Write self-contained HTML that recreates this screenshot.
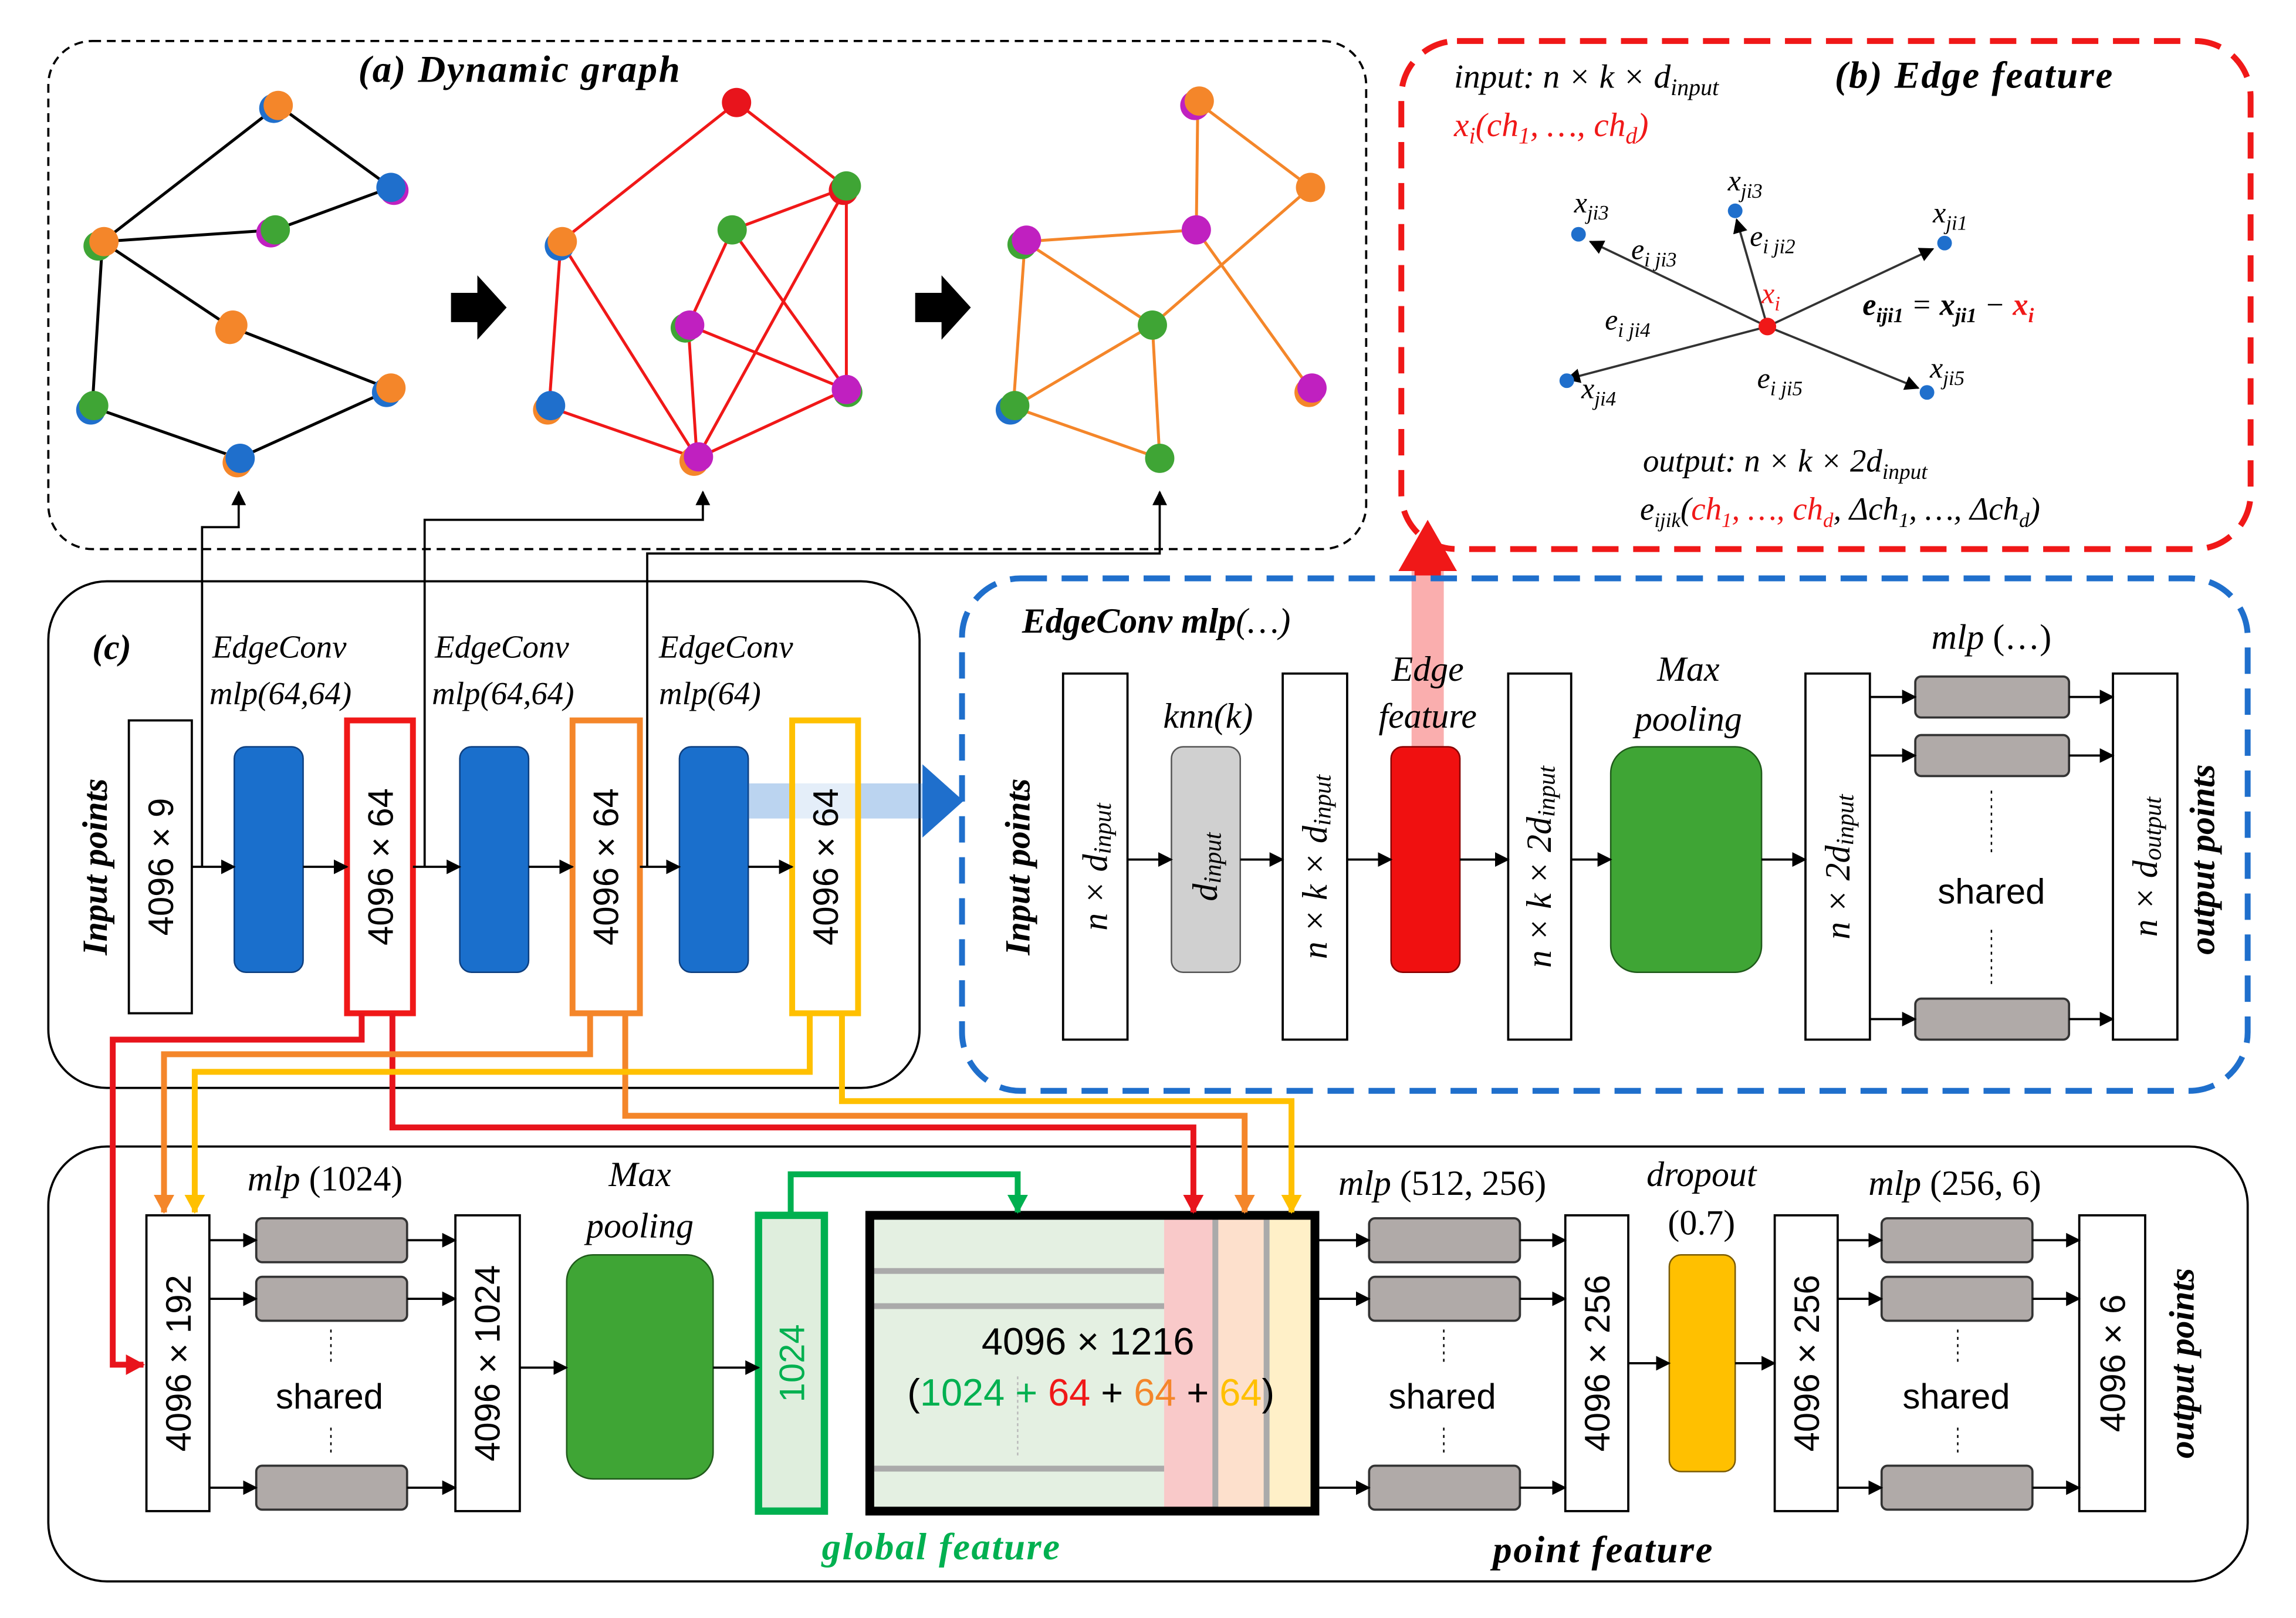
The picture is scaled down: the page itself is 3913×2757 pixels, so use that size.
<!DOCTYPE html>
<html><head><meta charset="utf-8"><style>
html,body{margin:0;padding:0;background:#fff;}
svg{display:block;}
.s{font-family:"Liberation Sans",sans-serif;}
.m{font-family:"Liberation Serif",serif;font-style:italic;}
.b{font-family:"Liberation Serif",serif;font-style:italic;font-weight:bold;}
</style></head><body>
<svg width="3913" height="2757" viewBox="0 0 1568 1105" preserveAspectRatio="none" xmlns="http://www.w3.org/2000/svg">
<defs>
<marker id="ak" markerWidth="10" markerHeight="10" refX="9" refY="5" orient="auto" markerUnits="userSpaceOnUse"><path d="M0,0 L10,5 L0,10z" fill="#000"/></marker>
<marker id="ar" markerWidth="14" markerHeight="14" refX="12" refY="7" orient="auto" markerUnits="userSpaceOnUse"><path d="M0,0 L13,7 L0,14z" fill="#e8141c"/></marker>
<marker id="ao" markerWidth="14" markerHeight="14" refX="12" refY="7" orient="auto" markerUnits="userSpaceOnUse"><path d="M0,0 L13,7 L0,14z" fill="#f4862a"/></marker>
<marker id="ay" markerWidth="14" markerHeight="14" refX="12" refY="7" orient="auto" markerUnits="userSpaceOnUse"><path d="M0,0 L13,7 L0,14z" fill="#ffc000"/></marker>
<marker id="ag" markerWidth="14" markerHeight="14" refX="12" refY="7" orient="auto" markerUnits="userSpaceOnUse"><path d="M0,0 L13,7 L0,14z" fill="#00b050"/></marker>
</defs>

<!-- (a) -->
<rect x="33" y="28" width="900" height="347" rx="30" fill="none" stroke="#000" stroke-width="1.5" stroke-dasharray="6,4"/>
<text x="355" y="56" text-anchor="middle" class="b" font-size="26" letter-spacing="1">(a) Dynamic graph</text>
<g stroke="#000" stroke-width="2">
<line x1="70" y1="165" x2="190" y2="72"/><line x1="190" y1="72" x2="267" y2="128"/><line x1="267" y1="128" x2="188" y2="157"/>
<line x1="70" y1="165" x2="188" y2="157"/><line x1="70" y1="165" x2="63" y2="278"/><line x1="70" y1="165" x2="157" y2="223"/>
<line x1="157" y1="223" x2="267" y2="266"/><line x1="63" y1="278" x2="163" y2="313"/><line x1="163" y1="313" x2="267" y2="266"/>
</g>
<g stroke="#f01818" stroke-width="2">
<line x1="383" y1="165" x2="503" y2="70"/><line x1="503" y1="70" x2="578" y2="128"/><line x1="578" y1="128" x2="578" y2="266"/>
<line x1="383" y1="165" x2="476" y2="313"/><line x1="383" y1="165" x2="375" y2="278"/><line x1="500" y1="157" x2="578" y2="128"/>
<line x1="500" y1="157" x2="470" y2="222"/><line x1="500" y1="157" x2="578" y2="266"/><line x1="470" y1="222" x2="578" y2="266"/>
<line x1="470" y1="222" x2="476" y2="313"/><line x1="375" y1="278" x2="476" y2="313"/><line x1="476" y1="313" x2="578" y2="266"/><line x1="578" y1="128" x2="476" y2="313"/>
</g>
<g stroke="#f4862a" stroke-width="2">
<line x1="818" y1="70" x2="817" y2="157"/><line x1="818" y1="70" x2="895" y2="128"/><line x1="700" y1="165" x2="817" y2="157"/>
<line x1="700" y1="165" x2="692" y2="278"/><line x1="700" y1="165" x2="787" y2="222"/><line x1="817" y1="157" x2="895" y2="266"/>
<line x1="895" y1="128" x2="787" y2="222"/><line x1="787" y1="222" x2="692" y2="278"/><line x1="787" y1="222" x2="792" y2="313"/><line x1="692" y1="278" x2="792" y2="313"/>
</g>
<g>
<circle cx="187" cy="74" r="10" fill="#1f6fcc"/><circle cx="190" cy="72" r="10" fill="#f4862a"/>
<circle cx="269" cy="130" r="10" fill="#c020c0"/><circle cx="267" cy="128" r="10" fill="#1f6fcc"/>
<circle cx="185" cy="159" r="10" fill="#c020c0"/><circle cx="188" cy="157" r="10" fill="#3fa535"/>
<circle cx="67" cy="168" r="10" fill="#3fa535"/><circle cx="71" cy="165" r="10" fill="#f4862a"/>
<circle cx="157" cy="225" r="10" fill="#f4862a"/><circle cx="159" cy="222" r="10" fill="#f4862a"/>
<circle cx="264" cy="268" r="10" fill="#1f6fcc"/><circle cx="267" cy="265" r="10" fill="#f4862a"/>
<circle cx="62" cy="280" r="10" fill="#1f6fcc"/><circle cx="64" cy="277" r="10" fill="#3fa535"/>
<circle cx="162" cy="316" r="10" fill="#f4862a"/><circle cx="164" cy="313" r="10" fill="#1f6fcc"/>

<circle cx="503" cy="70" r="10" fill="#e8141c"/>
<circle cx="576" cy="130" r="10" fill="#e8141c"/><circle cx="578" cy="127" r="10" fill="#3fa535"/>
<circle cx="500" cy="157" r="10" fill="#3fa535"/>
<circle cx="382" cy="168" r="10" fill="#1f6fcc"/><circle cx="384" cy="165" r="10" fill="#f4862a"/>
<circle cx="468" cy="224" r="10" fill="#3fa535"/><circle cx="471" cy="222" r="10" fill="#c020c0"/>
<circle cx="579" cy="268" r="10" fill="#3fa535"/><circle cx="578" cy="266" r="10" fill="#c020c0"/>
<circle cx="374" cy="280" r="10" fill="#f4862a"/><circle cx="376" cy="277" r="10" fill="#1f6fcc"/>
<circle cx="474" cy="315" r="10" fill="#f4862a"/><circle cx="477" cy="312" r="10" fill="#c020c0"/>

<circle cx="816" cy="72" r="10" fill="#c020c0"/><circle cx="819" cy="69" r="10" fill="#f4862a"/>
<circle cx="895" cy="128" r="10" fill="#f4862a"/>
<circle cx="817" cy="157" r="10" fill="#c020c0"/>
<circle cx="698" cy="167" r="10" fill="#3fa535"/><circle cx="701" cy="164" r="10" fill="#c020c0"/>
<circle cx="787" cy="222" r="10" fill="#3fa535"/>
<circle cx="894" cy="268" r="10" fill="#f4862a"/><circle cx="896" cy="265" r="10" fill="#c020c0"/>
<circle cx="690" cy="280" r="10" fill="#1f6fcc"/><circle cx="693" cy="277" r="10" fill="#3fa535"/>
<circle cx="792" cy="313" r="10" fill="#3fa535"/>
</g>
<path d="M308,200 h18 v-12 l20,22 l-20,22 v-12 h-18z" fill="#000"/>
<path d="M625,200 h18 v-12 l20,22 l-20,22 v-12 h-18z" fill="#000"/>

<!-- (b) -->
<rect x="957" y="28" width="580" height="347" rx="38" fill="none" stroke="#f01818" stroke-width="4" stroke-dasharray="18,10"/>
<text x="993" y="60" class="m" font-size="23">input: n × k × d<tspan font-size="16" dy="5">input</tspan></text>
<text x="1253" y="60" class="b" font-size="26" letter-spacing="1">(b) Edge feature</text>
<text x="993" y="93" class="m" font-size="23" fill="#f01818">x<tspan font-size="16" dy="5">i</tspan><tspan dy="-5">(ch</tspan><tspan font-size="16" dy="5">1</tspan><tspan dy="-5">, …, ch</tspan><tspan font-size="16" dy="5">d</tspan><tspan dy="-5">)</tspan></text>
<g stroke="#333" stroke-width="1.5" marker-end="url(#ak)">
<line x1="1207" y1="223" x2="1086" y2="165"/><line x1="1207" y1="223" x2="1186" y2="150"/>
<line x1="1207" y1="223" x2="1320" y2="170"/><line x1="1207" y1="223" x2="1070" y2="259"/><line x1="1207" y1="223" x2="1310" y2="265"/>
</g>
<g fill="#1f6fcc"><circle cx="1078" cy="160" r="5"/><circle cx="1185" cy="144" r="5"/><circle cx="1328" cy="166" r="5"/><circle cx="1070" cy="260" r="5"/><circle cx="1316" cy="268" r="5"/></g>
<circle cx="1207" cy="223" r="6" fill="#f01818"/>
<g class="m" font-size="20">
<text x="1075" y="145">x<tspan font-size="14" dy="5">ji3</tspan></text>
<text x="1180" y="130">x<tspan font-size="14" dy="5">ji3</tspan></text>
<text x="1320" y="152">x<tspan font-size="14" dy="5">ji1</tspan></text>
<text x="1080" y="272">x<tspan font-size="14" dy="5">ji4</tspan></text>
<text x="1318" y="258">x<tspan font-size="14" dy="5">ji5</tspan></text>
<text x="1114" y="177">e<tspan font-size="14" dy="5">i ji3</tspan></text>
<text x="1195" y="168">e<tspan font-size="14" dy="5">i ji2</tspan></text>
<text x="1096" y="225">e<tspan font-size="14" dy="5">i ji4</tspan></text>
<text x="1200" y="265">e<tspan font-size="14" dy="5">i ji5</tspan></text>
<text x="1203" y="207" fill="#f01818">x<tspan font-size="14" dy="5">i</tspan></text>
</g>
<text x="1272" y="215" class="b" font-size="21">e<tspan font-size="14" dy="5">iji1</tspan><tspan dy="-5" font-weight="normal"> = </tspan>x<tspan font-size="14" dy="5">ji1</tspan><tspan dy="-5" font-weight="normal"> − </tspan><tspan fill="#f01818">x<tspan font-size="14" dy="5">i</tspan></tspan></text>
<text x="1122" y="322" class="m" font-size="22">output: n × k × 2d<tspan font-size="15" dy="5">input</tspan></text>
<text x="1120" y="355" class="m" font-size="22">e<tspan font-size="14" dy="5">ijik</tspan><tspan dy="-5">(</tspan><tspan fill="#f01818">ch<tspan font-size="14" dy="5">1</tspan><tspan dy="-5">, …, ch</tspan><tspan font-size="14" dy="5">d</tspan></tspan><tspan dy="-5">, Δch</tspan><tspan font-size="14" dy="5">1</tspan><tspan dy="-5">, …, Δch</tspan><tspan font-size="14" dy="5">d</tspan><tspan dy="-5">)</tspan></text>

<!-- red up arrow -->
<rect x="964" y="390" width="22" height="120" fill="#f01818" opacity="0.35"/>
<path d="M955,390 L975,355 L995,390z" fill="#f01818"/>
<rect x="966" y="375" width="18" height="18" fill="#f01818"/>

<!-- (c) top -->
<rect x="33" y="397" width="595" height="346" rx="40" fill="none" stroke="#000" stroke-width="1.5"/>
<text x="63" y="450" class="b" font-size="24">(c)</text>
<text transform="translate(73,592) rotate(-90)" text-anchor="middle" class="b" font-size="24">Input points</text>
<g class="m" font-size="22">
<text x="145" y="449">EdgeConv</text><text x="143" y="481">mlp(64,64)</text>
<text x="297" y="449">EdgeConv</text><text x="295" y="481">mlp(64,64)</text>
<text x="450" y="449">EdgeConv</text><text x="450" y="481">mlp(64)</text>
</g>
<rect x="88" y="492" width="43" height="200" fill="#fff" stroke="#000" stroke-width="1.5"/>
<text transform="translate(110,592) rotate(-90)" text-anchor="middle" dominant-baseline="central" class="s" font-size="24">4096 × 9</text>
<g fill="#1a6fcc" stroke="#0d3f80" stroke-width="1">
<rect x="160" y="510" width="47" height="154" rx="8"/><rect x="314" y="510" width="47" height="154" rx="8"/><rect x="464" y="510" width="47" height="154" rx="8"/>
</g>
<rect x="511" y="535" width="122" height="24" fill="#1f6fcc" opacity="0.3"/>
<path d="M630,522 L658,547 L630,572z" fill="#1f6fcc"/>
<rect x="237" y="492" width="45" height="200" fill="#fff" stroke="#f01818" stroke-width="4"/>
<rect x="391" y="492" width="46" height="200" fill="#fff" stroke="#f4862a" stroke-width="4"/>
<rect x="541" y="492" width="45" height="200" fill="#fff" fill-opacity="0.6" stroke="#ffc000" stroke-width="4"/>
<g class="s" font-size="24" text-anchor="middle" dominant-baseline="central">
<text transform="translate(260,592) rotate(-90)">4096 × 64</text>
<text transform="translate(414,592) rotate(-90)">4096 × 64</text>
<text transform="translate(564,592) rotate(-90)">4096 × 64</text>
</g>
<g stroke="#000" stroke-width="1.5" marker-end="url(#ak)">
<line x1="131" y1="592" x2="160" y2="592"/><line x1="207" y1="592" x2="237" y2="592"/><line x1="282" y1="592" x2="314" y2="592"/>
<line x1="361" y1="592" x2="391" y2="592"/><line x1="437" y1="592" x2="464" y2="592"/><line x1="511" y1="592" x2="541" y2="592"/>
</g>
<g fill="none" stroke="#000" stroke-width="1.5" marker-end="url(#ak)">
<polyline points="138,592 138,360 163,360 163,336"/>
<polyline points="290,592 290,355 480,355 480,336"/>
<polyline points="442,592 442,378 792,378 792,336"/>
</g>

<!-- EdgeConv detail -->
<rect x="657" y="395" width="878" height="350" rx="40" fill="none" stroke="#1f6fcc" stroke-width="4" stroke-dasharray="18,10"/>
<text x="698" y="432" class="b" font-size="24">EdgeConv mlp<tspan font-weight="normal">(…)</tspan></text>
<text transform="translate(703,592) rotate(-90)" text-anchor="middle" class="b" font-size="24">Input points</text>
<g fill="#fff" stroke="#000" stroke-width="1.5">
<rect x="726" y="460" width="44" height="250"/><rect x="876" y="460" width="44" height="250"/><rect x="1030" y="460" width="43" height="250"/>
<rect x="1233" y="460" width="44" height="250"/><rect x="1443" y="460" width="44" height="250"/>
</g>
<rect x="800" y="510" width="47" height="154" rx="8" fill="#d0d0d0" stroke="#555" stroke-width="1"/>
<rect x="950" y="510" width="47" height="154" rx="8" fill="#f01010" stroke="#800" stroke-width="1"/>
<rect x="1100" y="510" width="103" height="154" rx="18" fill="#3fa535" stroke="#1f5a1a" stroke-width="1"/>
<g class="m" font-size="24" text-anchor="middle" dominant-baseline="central">
<text transform="translate(748,592) rotate(-90)">n × d<tspan font-size="17" dy="5">input</tspan></text>
<text transform="translate(823,592) rotate(-90)">d<tspan font-size="17" dy="5">input</tspan></text>
<text transform="translate(898,592) rotate(-90)">n × k × d<tspan font-size="17" dy="5">input</tspan></text>
<text transform="translate(1051,592) rotate(-90)">n × k × 2d<tspan font-size="17" dy="5">input</tspan></text>
<text transform="translate(1255,592) rotate(-90)">n × 2d<tspan font-size="17" dy="5">input</tspan></text>
<text transform="translate(1465,592) rotate(-90)">n × d<tspan font-size="17" dy="5">output</tspan></text>
</g>
<g class="m" font-size="24" text-anchor="middle">
<text x="825" y="497">knn(k)</text>
<text x="975" y="465">Edge</text><text x="975" y="497">feature</text>
<text x="1153" y="465">Max</text><text x="1153" y="499">pooling</text>
<text x="1360" y="443">mlp <tspan font-style="normal">(…)</tspan></text>
</g>
<text transform="translate(1512,587) rotate(-90)" text-anchor="middle" class="b" font-size="24">output points</text>
<g fill="#b0aaa8" stroke="#333" stroke-width="1.5">
<rect x="1308" y="462" width="105" height="28" rx="4"/><rect x="1308" y="502" width="105" height="28" rx="4"/><rect x="1308" y="682" width="105" height="28" rx="4"/>
</g>
<text x="1360" y="617" text-anchor="middle" class="s" font-size="24">shared</text>
<g stroke="#000" stroke-width="1" stroke-dasharray="2,3"><line x1="1360" y1="540" x2="1360" y2="585"/><line x1="1360" y1="635" x2="1360" y2="675"/></g>
<g stroke="#000" stroke-width="1.5" marker-end="url(#ak)">
<line x1="770" y1="587" x2="800" y2="587"/><line x1="847" y1="587" x2="876" y2="587"/><line x1="920" y1="587" x2="950" y2="587"/>
<line x1="997" y1="587" x2="1030" y2="587"/><line x1="1073" y1="587" x2="1100" y2="587"/><line x1="1203" y1="587" x2="1233" y2="587"/>
<line x1="1277" y1="476" x2="1308" y2="476"/><line x1="1277" y1="516" x2="1308" y2="516"/><line x1="1277" y1="696" x2="1308" y2="696"/>
<line x1="1413" y1="476" x2="1443" y2="476"/><line x1="1413" y1="516" x2="1443" y2="516"/><line x1="1413" y1="696" x2="1443" y2="696"/>
</g>

<!-- bottom panel -->
<rect x="33" y="783" width="1502" height="297" rx="40" fill="none" stroke="#000" stroke-width="1.5"/>
<g fill="#fff" stroke="#000" stroke-width="1.5">
<rect x="100" y="830" width="43" height="202"/><rect x="311" y="830" width="44" height="202"/>
<rect x="1069" y="830" width="43" height="202"/><rect x="1212" y="830" width="43" height="202"/><rect x="1420" y="830" width="45" height="202"/>
</g>
<g class="s" font-size="24" text-anchor="middle" dominant-baseline="central">
<text transform="translate(122,931) rotate(-90)">4096 × 192</text>
<text transform="translate(333,931) rotate(-90)">4096 × 1024</text>
<text transform="translate(1091,931) rotate(-90)">4096 × 256</text>
<text transform="translate(1234,931) rotate(-90)">4096 × 256</text>
<text transform="translate(1443,931) rotate(-90)">4096 × 6</text>
</g>
<g fill="#b0aaa8" stroke="#333" stroke-width="1.5">
<rect x="175" y="832" width="103" height="30" rx="4"/><rect x="175" y="872" width="103" height="30" rx="4"/><rect x="175" y="1001" width="103" height="30" rx="4"/>
<rect x="935" y="832" width="103" height="30" rx="4"/><rect x="935" y="872" width="103" height="30" rx="4"/><rect x="935" y="1001" width="103" height="30" rx="4"/>
<rect x="1285" y="832" width="103" height="30" rx="4"/><rect x="1285" y="872" width="103" height="30" rx="4"/><rect x="1285" y="1001" width="103" height="30" rx="4"/>
</g>
<g class="s" font-size="24" text-anchor="middle">
<text x="225" y="962">shared</text><text x="985" y="962">shared</text><text x="1336" y="962">shared</text>
</g>
<g stroke="#000" stroke-width="1" stroke-dasharray="2,3">
<line x1="226" y1="908" x2="226" y2="930"/><line x1="226" y1="975" x2="226" y2="995"/>
<line x1="986" y1="908" x2="986" y2="930"/><line x1="986" y1="975" x2="986" y2="995"/>
<line x1="1337" y1="908" x2="1337" y2="930"/><line x1="1337" y1="975" x2="1337" y2="995"/>
</g>
<g class="m" font-size="24" text-anchor="middle">
<text x="222" y="813">mlp <tspan font-style="normal">(1024)</tspan></text>
<text x="437" y="810">Max</text><text x="437" y="845">pooling</text>
<text x="985" y="816">mlp <tspan font-style="normal">(512, 256)</tspan></text>
<text x="1162" y="810">dropout</text><text x="1162" y="843" font-style="normal">(0.7)</text>
<text x="1335" y="816">mlp <tspan font-style="normal">(256, 6)</tspan></text>
</g>
<rect x="387" y="857" width="100" height="153" rx="18" fill="#3fa535" stroke="#1f5a1a" stroke-width="1"/>
<rect x="1140" y="857" width="45" height="148" rx="8" fill="#ffc000" stroke="#7a5a00" stroke-width="1"/>
<rect x="518" y="830" width="45" height="202" fill="#dfeedd" stroke="#00b050" stroke-width="5"/>
<text transform="translate(541,931) rotate(-90)" text-anchor="middle" dominant-baseline="central" class="s" font-size="24" fill="#00b050">1024</text>
<text x="643" y="1065" text-anchor="middle" class="b" font-size="26" fill="#00b050" letter-spacing="1">global feature</text>
<text x="1095" y="1067" text-anchor="middle" class="b" font-size="26" letter-spacing="1">point feature</text>
<text transform="translate(1498,931) rotate(-90)" text-anchor="middle" class="b" font-size="24">output points</text>
<rect x="594" y="830" width="201" height="202" fill="#e4f0e2"/>
<rect x="795" y="830" width="35" height="202" fill="#f9c9c9"/>
<rect x="830" y="830" width="35" height="202" fill="#fde0cc"/>
<rect x="865" y="830" width="33" height="202" fill="#fff0c8"/>
<g stroke="#aaa" stroke-width="4">
<line x1="597" y1="868" x2="795" y2="868"/><line x1="597" y1="892" x2="795" y2="892"/><line x1="597" y1="1003" x2="795" y2="1003"/>
<line x1="830" y1="833" x2="830" y2="1030"/><line x1="865" y1="833" x2="865" y2="1030"/>
</g>
<line x1="695" y1="940" x2="695" y2="995" stroke="#bbb" stroke-width="1" stroke-dasharray="2,2"/>
<rect x="594" y="830" width="304" height="202" fill="none" stroke="#000" stroke-width="6"/>
<text x="743" y="925" text-anchor="middle" class="s" font-size="26">4096 × 1216</text>
<text x="745" y="960" text-anchor="middle" class="s" font-size="26">(<tspan fill="#00b050">1024 + </tspan><tspan fill="#f01818">64</tspan> + <tspan fill="#f4862a">64</tspan> + <tspan fill="#ffc000">64</tspan>)</text>
<g stroke="#000" stroke-width="1.5" marker-end="url(#ak)">
<line x1="143" y1="847" x2="175" y2="847"/><line x1="143" y1="887" x2="175" y2="887"/><line x1="143" y1="1016" x2="175" y2="1016"/>
<line x1="278" y1="847" x2="311" y2="847"/><line x1="278" y1="887" x2="311" y2="887"/><line x1="278" y1="1016" x2="311" y2="1016"/>
<line x1="355" y1="934" x2="387" y2="934"/><line x1="487" y1="934" x2="518" y2="934"/>
<line x1="898" y1="847" x2="935" y2="847"/><line x1="898" y1="887" x2="935" y2="887"/><line x1="898" y1="1016" x2="935" y2="1016"/>
<line x1="1038" y1="847" x2="1069" y2="847"/><line x1="1038" y1="887" x2="1069" y2="887"/><line x1="1038" y1="1016" x2="1069" y2="1016"/>
<line x1="1112" y1="931" x2="1140" y2="931"/><line x1="1185" y1="931" x2="1212" y2="931"/>
<line x1="1255" y1="847" x2="1285" y2="847"/><line x1="1255" y1="887" x2="1285" y2="887"/><line x1="1255" y1="1016" x2="1285" y2="1016"/>
<line x1="1388" y1="847" x2="1420" y2="847"/><line x1="1388" y1="887" x2="1420" y2="887"/><line x1="1388" y1="1016" x2="1420" y2="1016"/>
</g>
<g fill="none" stroke-width="4">
<polyline points="247,692 247,710 77,710 77,932 98,932" stroke="#e8141c" marker-end="url(#ar)"/>
<polyline points="268,692 268,770 815,770 815,828" stroke="#e8141c" marker-end="url(#ar)"/>
<polyline points="403,692 403,720 112,720 112,828" stroke="#f4862a" marker-end="url(#ao)"/>
<polyline points="427,692 427,762 850,762 850,828" stroke="#f4862a" marker-end="url(#ao)"/>
<polyline points="553,692 553,732 133,732 133,828" stroke="#ffc000" marker-end="url(#ay)"/>
<polyline points="575,692 575,752 882,752 882,828" stroke="#ffc000" marker-end="url(#ay)"/>
<polyline points="540,828 540,802 695,802 695,828" stroke="#00b050" marker-end="url(#ag)"/>
</g>
</svg>
</body></html>
